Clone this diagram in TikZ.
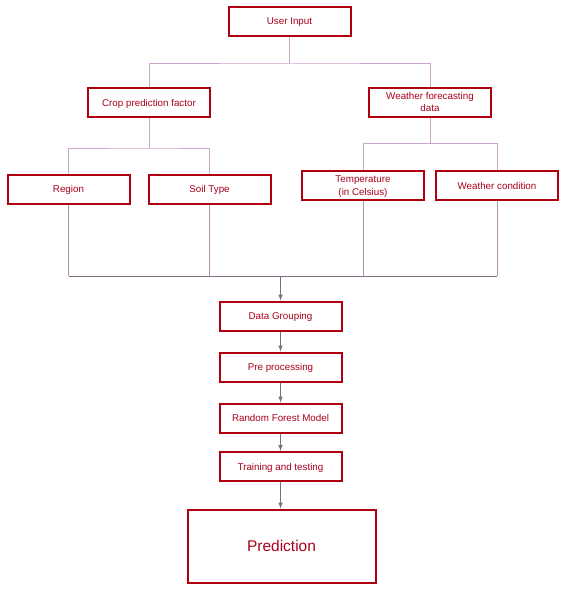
\documentclass[tikz,border=0pt]{standalone}
\usepackage{fontspec}
\setmainfont{Liberation Sans}
\usetikzlibrary{arrows}
\usetikzlibrary{calc}
\definecolor{boxred}{HTML}{B0000F}
\definecolor{txtred}{HTML}{A8001C}
\definecolor{treeline}{HTML}{CBA6CB}
\definecolor{dropline}{HTML}{B08EB0}
\definecolor{flowline}{HTML}{806A82}

\begin{document}
\begin{tikzpicture}[x=1pt,y=-1pt,
	box/.style={draw=boxred, line width=2pt, text=txtred, font=\fontsize{9.8}{12.5}\selectfont, align=center, text depth=0pt, minimum width=122pt, minimum height=29pt, inner sep=0pt},
	tree/.style={draw=treeline, line width=1pt},
	drop/.style={draw=dropline, line width=1pt},
	flow/.style={draw=flowline, line width=1pt, ->, >=latex}]
	\useasboundingbox (0,0) rectangle (569,589);
	
	% inputs
	\node[box] (input) at (289.5,21.5) {User Input};
	\node[box] (crop) at (149,102.5) {Crop prediction factor};
	\node[box] (weather) at (430,102) {Weather forecasting\\data};
	\node[box] (region) at (68.5,189) {Region};
	\node[box] (soil) at (209.5,189) {Soil Type};
	\node[box] (temp) at (363,185.5) {Temperature\\(in Celsius)};
	\node[box] (cond) at (497,185.5) {Weather condition};
	
	% steps
	\node[box] (group) at (280.5,316) {Data Grouping};
	\node[box] (pre) at (280.5,367) {Pre processing};
	\node[box] (forest) at (280.5,418) {Random Forest Model};
	\node[box] (train) at (280.5,466.5) {Training and testing};
	\node[box, minimum width=188pt, minimum height=73pt, font=\fontsize{15.5}{18}\selectfont] (pred) at (281.5,546) {Prediction};
	
	% tree
	\draw[tree] (input.south) -- ++(0,26) coordinate (split1);
	\draw[tree] (crop.north) |- (split1) -| (weather.north);
	\draw[tree] (crop.south) -- ++(0,30) coordinate (split2);
	\draw[tree] (region.north) |- (split2) -| (soil.north);
	\draw[tree] (weather.south) -- ++(0,26) coordinate (split3);
	\draw[tree] (temp.north) |- (split3) -| (cond.north);
	
	% merge
	\coordinate (merge) at (280.5,276);
	\draw[drop] (region.south) -- (region.south |- merge);
	\draw[drop] (soil.south) -- (soil.south |- merge);
	\draw[drop] (temp.south) -- (temp.south |- merge);
	\draw[drop] (cond.south) -- (cond.south |- merge);
	\draw[draw=flowline, line width=1pt] (region.south |- merge) -- (cond.south |- merge);
	
	% arrows
	\draw[flow] (merge) -- (group);
	\draw[flow] (group) -- (pre);
	\draw[flow] (pre) -- (forest);
	\draw[flow] (forest) -- (train);
	\draw[flow] (train.south) -- (train.south |- pred.north);
\end{tikzpicture}
\end{document}
